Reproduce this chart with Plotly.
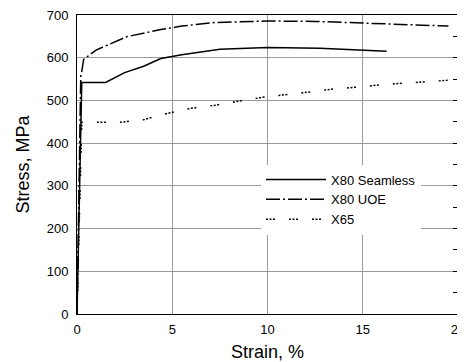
import plotly.graph_objects as go

# Data (strain %, stress MPa)
seamless_strain = [0, 0.25, 1.5, 2.5, 3.5, 4.4, 5.5, 7.5, 10, 12.75, 16.25]
seamless_stress = [0, 542, 542, 565, 580, 598, 607, 620, 624, 622, 615]

uoe_strain = [0, 0.2, 0.25, 0.35, 1.0, 2.6, 4.4, 5.5, 7.1, 10, 12.5, 15, 17, 19.5]
uoe_stress = [0, 560, 568, 596, 618, 649, 666, 674, 682, 686, 685, 682, 678, 674]

x65_strain = [0, 0.25, 1.5, 2.3, 3.5, 4.4, 5.9, 7.3, 8.7, 10, 11.9, 13.3, 14.9, 16.3, 17.8, 20]
x65_stress = [0, 449, 449, 449, 455, 466, 481, 489, 500, 509, 518, 526, 532, 538, 542, 549]

series_names = ["X80 Seamless", "X80 UOE", "X65"]
x_ticks = [0, 5, 10, 15, 20]
y_ticks = [0, 100, 200, 300, 400, 500, 600, 700]

FONT = "Liberation Sans, Arial, sans-serif"

fig = go.Figure()
fig.add_trace(go.Scatter(x=seamless_strain, y=seamless_stress, mode="lines",
                         name=series_names[0],
                         line=dict(color="black", width=1.5)))
fig.add_trace(go.Scatter(x=uoe_strain, y=uoe_stress, mode="lines",
                         name=series_names[1],
                         line=dict(color="black", width=1.5, dash="14px,3px,2px,3px")))
fig.add_trace(go.Scatter(x=x65_strain, y=x65_stress, mode="lines",
                         name=series_names[2],
                         line=dict(color="black", width=1.5, dash="2px,1.5px,2px,1.5px,2px,14px")))
# right-hand axis ticks (no data, only for the mirrored minor ticks)
fig.add_trace(go.Scatter(x=[None], y=[None], yaxis="y2", showlegend=False, hoverinfo="skip"))

# page body has an 8px margin, so the figure is 8px smaller than the window
fig.update_layout(
    width=457, height=354,
    margin=dict(l=69, r=7, t=7, b=48, autoexpand=False),
    paper_bgcolor="white", plot_bgcolor="white",
    font=dict(family=FONT, size=13, color="black"),
    showlegend=True,
    legend=dict(x=0.483, y=0.5, xanchor="left", yanchor="top",
                bgcolor="white", borderwidth=0,
                font=dict(family=FONT, size=13, color="black"),
                itemwidth=60, tracegroupgap=0),
    xaxis=dict(range=[0, 20], tickvals=x_ticks, ticks="", showgrid=True,
               gridcolor="#9a9a9a", gridwidth=1, zeroline=False, automargin=False,
               showline=True, linecolor="black", linewidth=1, mirror=True,
               ticklabelstandoff=3, ticklabeloverflow="allow",
               title=dict(text="Strain, %", font=dict(family=FONT, size=18), standoff=9),
               tickfont=dict(family=FONT, size=13)),
    yaxis=dict(range=[0, 700], tickvals=y_ticks, ticks="", showgrid=True,
               gridcolor="#9a9a9a", gridwidth=1, zeroline=False, automargin=False,
               showline=True, linecolor="black", linewidth=1, mirror=True,
               ticklabelstandoff=5, ticklabeloverflow="allow",
               title=dict(text="Stress, MPa", font=dict(family=FONT, size=18), standoff=12),
               tickfont=dict(family=FONT, size=13)),
    yaxis2=dict(range=[0, 700], overlaying="y", side="right", dtick=50,
                ticks="inside", ticklen=5, tickcolor="black", automargin=False,
                showticklabels=False, showgrid=False, zeroline=False, showline=False),
)

fig.write_html("out.html")
